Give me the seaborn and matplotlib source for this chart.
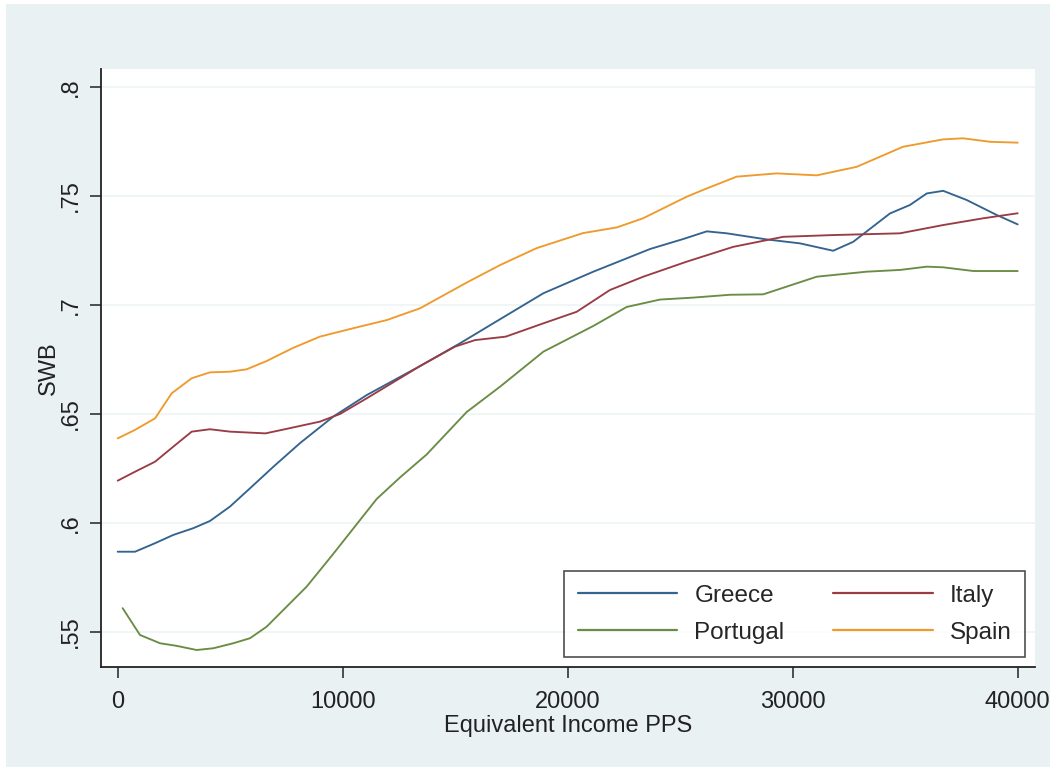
import matplotlib
matplotlib.use("Agg")
import matplotlib.pyplot as plt
from matplotlib.patches import Rectangle
from matplotlib.ticker import FuncFormatter
import pandas as pd
import seaborn as sns

# Smoothed subjective well-being by equivalent income, per country
greece_income = [0, 770, 1660, 2470, 3360, 4100, 4990, 5880, 6920, 8100, 9580, 11070,
                 13440, 15210, 16690, 18920, 21140, 23660, 25140, 26180, 27070, 28840,
                 30320, 31800, 32690, 34320, 35210, 35960, 36690, 37730, 39070, 40000]
greece_swb = [.5868, .5868, .5907, .5945, .5976, .6009, .6075, .6159, .6258, .6366, .6488,
              .6587, .6720, .6824, .6916, .7054, .7153, .7257, .7303, .7338, .7329, .7301,
              .7283, .7249, .7290, .7420, .7459, .7512, .7524, .7482, .7413, .7370]

italy_income = [0, 770, 1660, 2470, 3290, 4100, 4990, 6570, 7610, 8990, 9880, 11070, 13440,
                14990, 15880, 17250, 18920, 20400, 21880, 23360, 25290, 27360, 29580, 31800,
                34770, 36690, 38470, 40000]
italy_swb = [.6194, .6235, .6281, .6350, .6419, .6430, .6419, .6411, .6434, .6465, .6500,
             .6572, .6720, .6809, .6839, .6855, .6916, .6969, .7069, .7130, .7199, .7267,
             .7313, .7321, .7329, .7367, .7398, .7421]

portugal_income = [220, 990, 1880, 2620, 3510, 4250, 5140, 5880, 6620, 7510, 8400, 9580,
                   11510, 12550, 13730, 15510, 16990, 18920, 21140, 22620, 24100, 25580,
                   27210, 28690, 31070, 33290, 34770, 35960, 36690, 38030, 40000]
portugal_swb = [.5609, .5486, .5448, .5436, .5417, .5425, .5448, .5471, .5524, .5616, .5708,
                .5858, .6110, .6209, .6314, .6509, .6625, .6786, .6904, .6991, .7025, .7034,
                .7047, .7049, .7130, .7153, .7161, .7176, .7173, .7156, .7156]

spain_income = [0, 770, 1660, 2400, 3290, 4100, 4990, 5730, 6620, 7790, 8990, 10450, 11960,
                13440, 15510, 16990, 18620, 20680, 22180, 23350, 25290, 26180, 27510, 29290,
                31070, 32840, 34900, 36680, 37570, 38770, 40000]
spain_swb = [.6388, .6427, .6480, .6595, .6664, .6691, .6694, .6705, .6743, .6803, .6855,
             .6893, .6931, .6985, .7103, .7183, .7261, .7330, .7356, .7398, .7497, .7535,
             .7589, .7604, .7595, .7634, .7726, .7760, .7765, .7749, .7745]

countries = ["Greece", "Portugal", "Italy", "Spain"]
x_ticks = [0, 10000, 20000, 30000, 40000]
y_ticks = [0.55, 0.60, 0.65, 0.70, 0.75, 0.80]

series = {
    "Greece": (greece_income, greece_swb),
    "Italy": (italy_income, italy_swb),
    "Portugal": (portugal_income, portugal_swb),
    "Spain": (spain_income, spain_swb),
}
frames = [pd.DataFrame({"income": xs, "swb": ys, "country": name})
          for name, (xs, ys) in series.items()]
df = pd.concat(frames, ignore_index=True)

palette = {"Greece": "#34638f", "Italy": "#9a3c46", "Portugal": "#6a8c45", "Spain": "#ef9a2c"}
BG = "#eaf1f3"

sns.set_style("white")
plt.rcParams["font.family"] = ["Liberation Sans", "DejaVu Sans"]

fig = plt.figure(figsize=(10.5, 7.67), dpi=100, facecolor="white")
fig.patches.append(Rectangle((6 / 1050, 0), 1, 763 / 767, transform=fig.transFigure,
                             facecolor=BG, edgecolor="none", zorder=-10))
ax = fig.add_axes([101 / 1050, 100 / 767, 934 / 1050, 598 / 767])
ax.set_facecolor("white")

sns.lineplot(data=df, x="income", y="swb", hue="country", hue_order=countries,
             palette=palette, linewidth=1.35, ax=ax, estimator=None, sort=True)

ax.set_xlim(-742, 40769)
ax.set_ylim(0.5339, 0.8083)
ax.set_xticks(x_ticks)
ax.set_yticks(y_ticks)
ax.yaxis.set_major_formatter(FuncFormatter(lambda v, _: f"{v:g}".lstrip("0")))
ax.xaxis.set_major_formatter(FuncFormatter(lambda v, _: f"{v:.0f}"))
ax.yaxis.grid(True, color="#eef4f5", linewidth=1.2)
ax.xaxis.grid(False)
ax.set_axisbelow(True)

for side in ("top", "right"):
    ax.spines[side].set_visible(False)
for side in ("left", "bottom"):
    ax.spines[side].set_color("#222222")
    ax.spines[side].set_linewidth(1.3)

ax.tick_params(axis="both", direction="out", length=8, width=1.1, color="#222222",
               labelsize=17, labelcolor="#222222", left=True, bottom=True)
ax.tick_params(axis="x", pad=9)
ax.tick_params(axis="y", pad=6)
for lab in ax.get_yticklabels():
    lab.set_rotation(90)
    lab.set_va("center")

ax.set_xlabel("Equivalent Income PPS", fontsize=17, color="#222222", labelpad=2)
ax.set_ylabel("SWB", fontsize=17, color="#222222", labelpad=0)

handles, labels = ax.get_legend_handles_labels()
leg = ax.legend(handles, labels, ncol=2, loc="lower right",
                bbox_to_anchor=(0.9893, 0.0167), frameon=True,
                prop={"size": 17.5}, fancybox=False, edgecolor="#222222",
                handlelength=4.1, handletextpad=0.7, columnspacing=2.0,
                borderpad=0.55, labelspacing=0.62, borderaxespad=0)
leg.get_frame().set_linewidth(1.2)
for line in leg.get_lines():
    line.set_linewidth(1.6)

fig.savefig("out.png", dpi=100, facecolor=fig.get_facecolor())
